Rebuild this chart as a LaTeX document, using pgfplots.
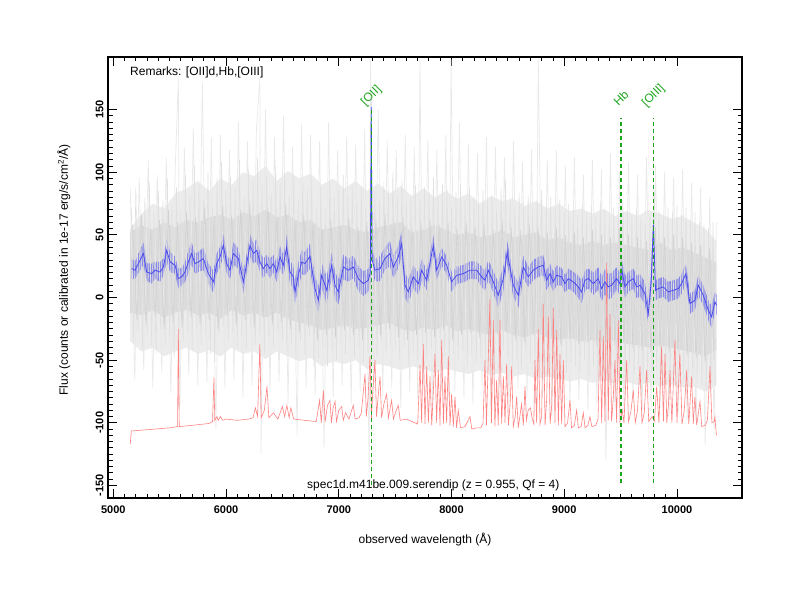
\documentclass[border=0pt]{standalone}
\usepackage{fontspec}
\setmainfont{Liberation Sans}
\usepackage{pgfplots}
\pgfplotsset{compat=1.18}
\usepackage{pgfplotstable}
\usepgfplotslibrary{fillbetween}
\definecolor{bline}{RGB}{75,75,235}
\definecolor{bband}{RGB}{135,135,232}
\definecolor{skyred}{RGB}{255,130,130}
\definecolor{lgreen}{RGB}{30,165,30}
\pgfplotstableread{
x u1 l1 u2 l2
5150 55 -35 52 -12
5250 67 -43 58 -14
5350 75 -40 54 -10
5450 71 -47 60 -16
5550 83 -43 56 -12
5650 87 -40 62 -10
5750 93 -45 60 -14
5850 85 -42 64 -12
5950 95 -47 66 -17
6050 90 -40 62 -10
6150 100 -45 68 -14
6250 97 -43 65 -12
6350 105 -49 70 -16
6450 93 -43 64 -12
6550 101 -47 66 -17
6650 95 -51 60 -20
6750 99 -48 62 -22
6850 90 -55 54 -26
6950 95 -51 56 -24
7050 87 -53 58 -22
7150 93 -50 54 -25
7250 85 -57 52 -24
7350 91 -53 56 -22
7450 83 -55 58 -20
7550 89 -58 60 -25
7650 81 -55 52 -27
7750 87 -57 54 -24
7850 80 -60 58 -26
7950 85 -57 54 -22
8050 79 -59 50 -27
8150 83 -61 52 -25
8250 75 -58 48 -28
8350 81 -62 50 -30
8450 77 -60 54 -26
8550 79 -63 48 -30
8650 73 -61 50 -32
8750 77 -65 52 -28
8850 71 -63 46 -32
8950 75 -65 48 -34
9050 69 -67 44 -32
9150 71 -65 42 -35
9250 67 -68 45 -34
9350 71 -66 42 -36
9450 65 -69 44 -34
9550 69 -67 42 -37
9650 65 -70 40 -38
9750 70 -68 38 -40
9850 67 -71 44 -38
9950 63 -69 38 -40
10050 65 -72 40 -42
10150 60 -71 36 -44
10250 55 -75 32 -47
10350 45 -70 28 -42
}\envtab
\pgfplotstableread{
x y e
5163 23.1 8
5193 21.8 7
5222 27.1 8
5267 35.1 9
5296 20.4 7
5341 19.1 8
5370 21.8 7
5415 20.4 8
5444 24.4 7
5474 37.7 9
5503 28.4 8
5548 25.8 7
5577 15.1 8
5607 16.5 7
5636 20.4 8
5666 28.4 9
5695 35.1 9
5725 27.1 8
5755 28.4 8
5799 31.1 9
5843 19.1 8
5888 12.5 9
5917 27.1 8
5947 32.4 8
5976 41.7 9
6006 27.1 8
6035 21.8 7
6065 35.1 9
6109 31.1 8
6154 12.5 9
6183 27.1 8
6213 41.7 9
6242 35.1 8
6272 37.7 9
6301 28.4 8
6331 23.1 8
6361 27.1 7
6390 23.1 8
6420 27.1 7
6449 20.4 8
6479 32.4 9
6508 25.8 8
6538 40.4 10
6567 20.4 9
6597 16.5 9
6612 4.5 10
6641 17.8 10
6671 28.4 10
6700 27.1 9
6745 33 10
6789 7.1 10
6819 -2.2 11
6848 17.8 10
6893 5.8 11
6937 25.8 10
6967 9.8 11
6996 4.5 10
7041 24.4 10
7085 21.8 9
7129 24.4 9
7174 15.1 10
7218 11.1 10
7262 13.8 9
7280 20 9
7288 152 9
7296 30 9
7321 21.8 9
7366 23.1 10
7410 31.1 9
7454 35.1 10
7484 24.4 9
7528 32.4 9
7558 43.0 10
7587 9.8 10
7617 4.5 10
7661 16.5 9
7706 11.1 9
7735 21.8 9
7780 13.8 8
7839 41.7 8
7868 21.8 8
7913 32.4 7
7957 25.8 7
8001 12.5 8
8046 17.8 7
8105 19.1 7
8164 21.8 7
8223 21.8 7
8267 16.5 8
8297 13.8 8
8326 21.8 8
8371 12.5 9
8415 1.8 10
8460 15.1 10
8494 36 9
8504 31.1 9
8548 9.8 9
8593 1.8 10
8637 24.4 9
8681 16.5 8
8725 21.8 8
8770 24.4 8
8814 25.8 8
8844 13.8 8
8874 19.1 8
8903 12.5 8
8933 17.8 8
8977 16.5 7
9007 11.1 7
9036 15.1 8
9081 12.5 8
9125 8.5 9
9154 4.5 9
9184 13.8 8
9214 15.1 8
9258 11.1 9
9302 15.1 9
9332 7.1 10
9361 12.5 10
9391 8.5 10
9420 9.8 10
9465 15.1 9
9494 11.1 9
9510 21.8 9
9539 8.5 9
9568 12.5 8
9613 15.1 8
9642 8.5 9
9672 9.8 9
9716 3.2 9
9746 -12.8 8
9772 13.8 8
9791 58 7
9810 5.8 8
9834 7.1 8
9879 8.5 8
9923 4.5 8
9967 5.8 8
10012 7.1 8
10041 11.1 8
10080 19.1 8
10115 -4.8 8
10159 -2.2 8
10189 9.8 8
10233 1.8 8
10278 -10.1 8
10307 -15.4 9
10337 -3.5 8
10352 -6.1 8
}\bluetab
\begin{document}
\begin{tikzpicture}[font=\fontsize{12}{14}\selectfont]
\begin{axis}[
  at={(0pt,0pt)}, anchor=south west,
  scale only axis, width=634pt, height=441pt,
  xmin=4953, xmax=10577, ymin=-160, ymax=192,
  xtick={5000,6000,7000,8000,9000,10000},
  ytick={-150,-100,-50,0,50,100,150},
  scaled x ticks=false, scaled y ticks=false,
  minor x tick num=9, minor y tick num=9,
  tick align=inside,
  major tick length=9pt, minor tick length=4.5pt,
  axis line style={line width=1.5pt},
  every tick/.append style={line width=0.9pt, black},
  /pgf/number format/assume math mode=true,
  /pgf/number format/1000 sep={},
  tick label style={font=\fontsize{11}{13}\selectfont\bfseries},
  yticklabel style={rotate=90, anchor=south},
  xticklabel style={anchor=north},
  xticklabel shift=4pt, yticklabel shift=1pt,
  xlabel={observed wavelength (Å)},
  ylabel={Flux (counts or calibrated in 1e-17 erg/s/cm\textsuperscript{2}/Å)},
  xlabel style={at={(axis description cs:0.5,-0.093)}, anchor=center},
  ylabel style={at={(axis description cs:-0.0694,0.517)}, anchor=center},
  clip=true,
]
% noise envelopes
\addplot[draw=none, name path=u1, forget plot] table[x=x, y=u1] {\envtab};
\addplot[draw=none, name path=l1, forget plot] table[x=x, y=l1] {\envtab};
\addplot[draw=none, name path=u2, forget plot] table[x=x, y=u2] {\envtab};
\addplot[draw=none, name path=l2, forget plot] table[x=x, y=l2] {\envtab};
\addplot[fill=gray!15, draw=none] fill between[of=u1 and l1];
\addplot[fill=gray!28, draw=none] fill between[of=u2 and l2];
% light outer noise
\addplot[color=gray!17, line width=0.7pt] coordinates {(5150,88)(5190,-66)(5230,96)(5270,-58)(5310,110)(5350,-72)(5390,98)(5430,-60)(5470,112)(5510,-76)(5550,105)(5577,175)(5590,-90)(5630,120)(5670,-62)(5710,135)(5750,-70)(5790,172)(5830,-68)(5870,128)(5910,-105)(5950,130)(5990,-72)(6030,118)(6070,-66)(6110,140)(6150,-80)(6190,125)(6230,-70)(6270,135)(6300,175)(6310,-125)(6350,150)(6390,-75)(6430,128)(6470,-68)(6510,145)(6550,-85)(6590,120)(6630,-110)(6670,138)(6710,-72)(6750,130)(6790,-78)(6830,125)(6870,-120)(6910,140)(6950,-80)(6990,118)(7030,-70)(7070,128)(7110,-85)(7150,122)(7190,-75)(7230,135)(7270,-140)(7282,190)(7310,-82)(7350,150)(7390,-78)(7430,125)(7470,-72)(7510,118)(7550,-88)(7590,130)(7630,-75)(7670,120)(7700,-80)(7720,190)(7750,-70)(7790,125)(7830,-92)(7870,118)(7910,-75)(7950,130)(7975,-80)(7996,190)(8030,-75)(8070,140)(8110,-80)(8150,122)(8190,-85)(8230,115)(8270,-70)(8310,128)(8350,-95)(8390,120)(8430,-78)(8470,112)(8510,-88)(8550,125)(8590,-72)(8630,108)(8670,-80)(8710,118)(8745,-85)(8770,190)(8810,-80)(8850,110)(8890,-95)(8930,118)(8970,-78)(9010,105)(9050,-88)(9090,112)(9130,-82)(9170,98)(9210,-90)(9250,110)(9290,-85)(9330,102)(9370,-130)(9410,115)(9450,-88)(9490,100)(9530,-92)(9570,108)(9610,-85)(9650,98)(9690,-95)(9730,112)(9770,-90)(9810,105)(9850,-88)(9890,100)(9930,-95)(9970,96)(10010,-92)(10050,102)(10090,-98)(10130,92)(10170,-100)(10210,88)(10250,-118)(10290,80)(10330,-105)(10350,60)};
% medium noise
\addplot[color=gray!24, line width=0.6pt] coordinates {(5160,72)(5180,-35)(5200,88)(5220,-28)(5240,65)(5260,-42)(5280,80)(5300,-30)(5320,92)(5340,-38)
(5360,70)(5380,-45)(5400,85)(5420,-25)(5440,78)(5460,-40)(5480,95)(5500,-32)(5520,75)(5540,-48)
(5560,88)(5580,-30)(5600,70)(5620,-35)(5640,98)(5660,-28)(5680,82)(5700,-42)(5720,105)(5740,-25)
(5760,90)(5780,-38)(5800,78)(5820,-30)(5840,100)(5860,-45)(5880,72)(5900,-52)(5920,95)(5940,-30)
(5960,108)(5980,-22)(6000,85)(6020,-35)(6040,96)(6060,-28)(6080,88)(6100,-40)(6120,110)(6140,-30)
(6160,80)(6180,-42)(6200,102)(6220,-25)(6240,95)(6260,-38)(6280,112)(6300,-30)(6320,90)(6340,-45)
(6360,98)(6380,-32)(6400,85)(6420,-40)(6440,105)(6460,-28)(6480,92)(6500,-35)(6520,100)(6540,-42)
(6560,82)(6580,-38)(6600,96)(6620,-50)(6640,78)(6660,-35)(6680,90)(6700,-45)(6720,85)(6740,-30)
(6760,95)(6780,-55)(6800,72)(6820,-48)(6840,88)(6860,-40)(6880,70)(6900,-55)(6920,92)(6940,-42)
(6960,80)(6980,-50)(7000,86)(7020,-38)(7040,98)(7060,-45)(7080,82)(7100,-35)(7120,90)(7140,-48)
(7160,76)(7180,-40)(7200,88)(7220,-52)(7240,72)(7260,-45)(7280,95)(7300,-40)(7320,85)(7340,-48)
(7360,78)(7380,-35)(7400,92)(7420,-45)(7440,86)(7460,-38)(7480,100)(7500,-42)(7520,80)(7540,-50)
(7560,94)(7580,-40)(7600,75)(7620,-55)(7640,82)(7660,-45)(7680,90)(7700,-50)(7720,78)(7740,-38)
(7760,88)(7780,-48)(7800,84)(7820,-40)(7840,96)(7860,-52)(7880,80)(7900,-42)(7920,90)(7940,-48)
(7960,86)(7980,-55)(8000,72)(8020,-45)(8040,84)(8060,-50)(8080,90)(8100,-42)(8120,78)(8140,-55)
(8160,88)(8180,-45)(8200,80)(8220,-52)(8240,74)(8260,-48)(8280,86)(8300,-55)(8320,78)(8340,-45)
(8360,82)(8380,-58)(8400,70)(8420,-50)(8440,88)(8460,-42)(8480,95)(8500,-48)(8520,80)(8540,-55)
(8560,72)(8580,-50)(8600,84)(8620,-58)(8640,76)(8660,-45)(8680,82)(8700,-52)(8720,70)(8740,-48)
(8760,78)(8780,-55)(8800,86)(8820,-50)(8840,74)(8860,-58)(8880,80)(8900,-45)(8920,72)(8940,-55)
(8960,78)(8980,-50)(9000,68)(9020,-60)(9040,75)(9060,-52)(9080,70)(9100,-55)(9120,66)(9140,-58)
(9160,74)(9180,-50)(9200,68)(9220,-62)(9240,72)(9260,-55)(9280,65)(9300,-60)(9320,76)(9340,-52)
(9360,70)(9380,-62)(9400,64)(9420,-55)(9440,72)(9460,-58)(9480,68)(9500,-52)(9520,78)(9540,-60)
(9560,70)(9580,-55)(9600,66)(9620,-62)(9640,72)(9660,-58)(9680,64)(9700,-65)(9720,60)(9740,-70)
(9760,66)(9780,-60)(9800,85)(9820,-58)(9840,70)(9860,-62)(9880,64)(9900,-55)(9920,72)(9940,-65)
(9960,68)(9980,-60)(10000,74)(10020,-58)(10040,66)(10060,-65)(10080,72)(10100,-60)(10120,62)(10140,-68)
(10160,68)(10180,-62)(10200,60)(10220,-70)(10240,58)(10260,-75)(10280,55)(10300,-78)(10320,60)(10340,-70)};
% dense core
\addplot[color=gray!35, line width=0.6pt] coordinates {(5170,58)(5210,-18)(5250,66)(5290,-22)(5330,55)(5370,-15)(5410,62)(5450,-25)(5490,70)(5530,-20)
(5570,60)(5610,-24)(5650,68)(5690,-16)(5730,64)(5770,-22)(5810,72)(5850,-18)(5890,58)(5930,-26)
(5970,74)(6010,-15)(6050,66)(6090,-22)(6130,70)(6170,-18)(6210,76)(6250,-24)(6290,68)(6330,-16)
(6370,72)(6410,-22)(6450,64)(6490,-20)(6530,74)(6570,-25)(6610,60)(6650,-28)(6690,66)(6730,-24)
(6770,58)(6810,-34)(6850,55)(6890,-30)(6930,62)(6970,-32)(7010,58)(7050,-26)(7090,64)(7130,-30)
(7170,56)(7210,-34)(7250,60)(7290,-28)(7330,62)(7370,-30)(7410,66)(7450,-25)(7490,60)(7530,-32)
(7570,64)(7610,-34)(7650,55)(7690,-30)(7730,60)(7770,-28)(7810,62)(7850,-32)(7890,58)(7930,-26)
(7970,60)(8010,-34)(8050,55)(8090,-30)(8130,60)(8170,-28)(8210,56)(8250,-32)(8290,58)(8330,-35)
(8370,54)(8410,-30)(8450,62)(8490,-28)(8530,56)(8570,-34)(8610,54)(8650,-36)(8690,58)(8730,-30)
(8770,55)(8810,-36)(8850,52)(8890,-32)(8930,56)(8970,-38)(9010,50)(9050,-34)(9090,52)(9130,-38)
(9170,48)(9210,-36)(9250,54)(9290,-40)(9330,50)(9370,-36)(9410,48)(9450,-38)(9490,55)(9530,-35)
(9570,50)(9610,-40)(9650,48)(9690,-42)(9730,45)(9770,-44)(9810,56)(9850,-40)(9890,48)(9930,-44)
(9970,50)(10010,-42)(10050,48)(10090,-46)(10130,44)(10170,-48)(10210,42)(10250,-52)(10290,40)(10330,-50)};
% sky spectrum
\addplot[color=skyred, line width=0.6pt] coordinates {(5150,-117)(5160,-106.5)(5300,-105.5)(5500,-104)(5570,-103)(5577,-25)(5585,-103)(5700,-102)(5850,-100.5)(5880,-99)(5893,-64)(5900,-98)(5920,-95)(5930,-98)(5950,-95)(5970,-98)(6000,-97)(6100,-98)(6200,-97)(6240,-96)(6260,-88)(6280,-95)(6300,-37)(6312,-96)(6340,-90)(6363,-71)(6380,-96)(6420,-92)(6460,-97)(6500,-87)(6520,-95)(6540,-86)(6560,-96)(6575,-88)(6600,-97)(6700,-98)(6800,-99)(6830,-82)(6845,-100)(6863,-74)(6880,-99)(6900,-86)(6922,-82)(6935,-100)(6950,-88)(6967,-83)(6980,-99)(7000,-90)(7026,-87)(7040,-98)(7060,-92)(7090,-97)(7129,-86)(7145,-97)(7180,-96)(7200,-92)(7233,-61)(7245,-95)(7260,-80)(7277,-47)(7290,-96)(7305,-70)(7321,-50)(7335,-95)(7350,-78)(7366,-63)(7380,-96)(7400,-85)(7425,-77)(7440,-96)(7469,-82)(7485,-97)(7510,-90)(7528,-86)(7545,-98)(7600,-97)(7650,-99)(7700,-101)(7721,-54)(7735,-100)(7750,-37)(7765,-101)(7780,-55)(7795,-100)(7809,-63)(7825,-102)(7854,-45)(7868,-100)(7883,-58)(7898,-102)(7913,-34)(7928,-101)(7942,-63)(7957,-100)(7972,-47)(7987,-102)(8001,-77)(8016,-103)(8031,-79)(8045,-104)(8060,-90)(8080,-104)(8120,-103)(8164,-95)(8180,-105)(8220,-104)(8260,-104)(8280,-100)(8297,-50)(8310,-102)(8341,-1)(8355,-100)(8371,-18)(8385,-103)(8400,-66)(8415,-102)(8430,-18)(8445,-101)(8460,-63)(8475,-100)(8489,-53)(8505,-102)(8520,-85)(8534,-55)(8548,-103)(8565,-95)(8578,-79)(8592,-104)(8622,-85)(8637,-102)(8652,-71)(8665,-98)(8680,-90)(8700,-88)(8715,-96)(8730,-101)(8741,-50)(8755,-100)(8770,-25)(8785,-101)(8800,-95)(8814,-5)(8830,-102)(8845,-80)(8859,-15)(8875,-101)(8890,-85)(8903,-8)(8918,-100)(8933,-26)(8948,-102)(8962,-45)(8977,-101)(8992,-50)(9007,-103)(9030,-100)(9051,-82)(9065,-104)(9090,-102)(9110,-90)(9125,-104)(9150,-103)(9169,-92)(9185,-104)(9210,-102)(9228,-95)(9245,-103)(9280,-102)(9300,-97)(9317,-26)(9332,-100)(9347,-31)(9362,-99)(9376,28)(9391,-98)(9406,-13)(9420,-99)(9435,-80)(9450,-50)(9465,-100)(9480,-18)(9495,-99)(9515,-90)(9530,-100)(9554,-50)(9570,-99)(9590,-92)(9613,-74)(9630,-100)(9650,-90)(9672,-55)(9690,-100)(9710,-92)(9731,-58)(9750,-99)(9780,-95)(9800,-99)(9820,-71)(9840,-100)(9864,-39)(9880,-99)(9894,-45)(9910,-100)(9925,-85)(9938,-58)(9955,-100)(9982,-34)(10000,-100)(10026,-45)(10045,-101)(10065,-90)(10086,-58)(10105,-101)(10130,-63)(10145,-101)(10159,-79)(10175,-102)(10204,-83)(10220,-103)(10250,-102)(10270,-98)(10293,-55)(10310,-100)(10330,-99)(10337,-95)(10345,-105)(10352,-110)};
% smoothed spectrum with band
\addplot[draw=none, name path=up, forget plot] table[x=x, y expr=\thisrow{y}+\thisrow{e}] {\bluetab};
\addplot[draw=none, name path=lo, forget plot] table[x=x, y expr=\thisrow{y}-\thisrow{e}] {\bluetab};
\addplot[fill=bband, draw=none] fill between[of=up and lo];
\addplot[color=bline, line width=0.8pt] table[x=x, y=y] {\bluetab};
% line markers
\addplot[color=lgreen, line width=1.1pt, dash pattern=on 4pt off 3pt] coordinates {(7290.4,-150) (7290.4,150)};
\addplot[color=lgreen, line width=1.1pt, dash pattern=on 4pt off 3pt] coordinates {(9503.6,-148) (9503.6,143)};
\addplot[color=lgreen, line width=1.1pt, dash pattern=on 4pt off 3pt] coordinates {(9791.9,-148) (9791.9,143)};
\node[rotate=45, text=lgreen, inner sep=0pt] at (axis cs:7290,161) {[OII]};
\node[rotate=45, text=lgreen, inner sep=0pt] at (axis cs:9503,159) {Hb};
\node[rotate=45, text=lgreen, inner sep=0pt] at (axis cs:9792,161) {[OIII]};
\node[anchor=west, inner sep=0pt] at (rel axis cs:0.0347,0.964) {Remarks: [OII]d,Hb,[OIII]};
\node[anchor=center, inner sep=0pt] at (rel axis cs:0.513,0.0295) {spec1d.m41be.009.serendip (z = 0.955, Qf = 4)};
\end{axis}
\pgfresetboundingbox
\useasboundingbox (-108pt,-102pt) rectangle (692pt,498pt);
\end{tikzpicture}
\end{document}
